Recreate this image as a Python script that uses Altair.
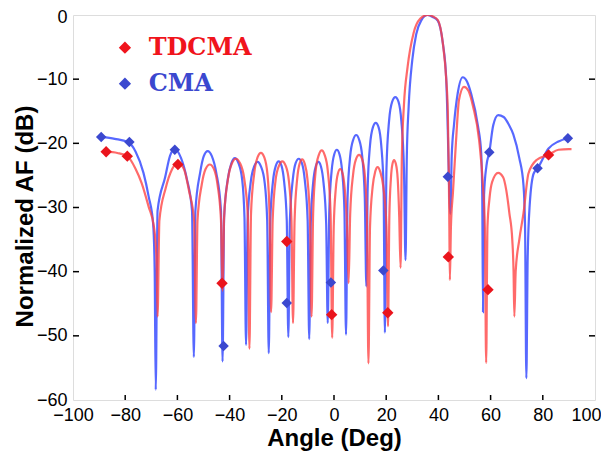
import altair as alt
import pandas as pd

# ---------------- data ----------------
cma_angle = [
    -89, -84, -79, -76, -73, -71, -69.3, -68.7, -68.3,
    -67.6, -64.7, -62.8, -61.0, -58.6, -56.4, -54.4, -53.7,
    -53.1, -51.3, -49.9, -48.4, -46.8, -45.1, -43.3, -42.7,
    -42.1, -40.7, -39.3, -38.0, -36.6, -35.2, -34.3, -33.7,
    -33.1, -31.9, -30.6, -29.3, -28.0, -26.6, -25.6, -25.0,
    -24.4, -23.4, -22.3, -21.2, -20.1, -19.1, -18.1, -17.5,
    -16.9, -15.8, -14.7, -13.5, -12.3, -11.2, -10.1, -9.5,
    -8.9, -8.0, -7.0, -6.0, -5.0, -4.0, -3.0, -2.4,
    -1.8, -0.9, 0.1, 1.1, 2.1, 3.1, 4.0, 4.6,
    5.2, 6.2, 7.4, 8.5, 9.6, 10.8, 11.8, 12.4,
    12.9, 13.8, 14.9, 16.0, 17.1, 18.1, 19.0, 19.5,
    20.1, 21.1, 22.3, 23.5, 24.7, 25.8, 26.8, 27.4,
    27.9, 28.6, 30.0, 31.5, 33.5, 35.8, 37.8, 39.8, 41.7, 43.0, 43.6, 44.0, 44.6,
    45.1, 46.0, 47.4, 49.3, 51.0, 52.5, 55.2, 56.4, 56.8, 57.1,
    57.5, 58.4, 59.5, 61.0, 62.9, 65.0, 67.0, 68.7, 71.0, 72.6, 73.2, 73.7,
    74.2, 75.0, 76.5, 78.0, 82.2, 86.0, 89.6,
]
cma_db = [
    -19.0, -19.3, -19.8, -21.3, -24.6, -28.3, -32.5, -40.0, -58.4,
    -30.5, -25.3, -21.9, -20.9, -22.3, -25.5, -30.5, -53.3,
    -30.5, -24.6, -22.0, -21.2, -22.0, -24.6, -30.5, -54.0,
    -31.5, -25.6, -23.1, -22.3, -23.1, -25.6, -31.5, -51.4,
    -32.0, -26.0, -23.6, -22.9, -23.6, -26.0, -32.0, -52.7,
    -32.0, -26.0, -23.5, -22.8, -23.5, -26.0, -32.0, -50.2,
    -32.0, -25.7, -23.1, -22.4, -23.1, -25.7, -32.0, -50.5,
    -32.5, -26.2, -23.6, -22.9, -23.6, -26.2, -32.5, -48.0,
    -30.5, -24.3, -21.7, -21.0, -21.7, -24.3, -30.5, -49.8,
    -28.5, -22.0, -19.4, -18.7, -19.4, -22.0, -28.5, -42.3,
    -27.0, -20.3, -17.5, -16.8, -17.5, -20.3, -27.0, -49.5,
    -24.0, -16.5, -13.5, -12.8, -13.5, -16.5, -24.0, -38.2,
    -22.0, -14.3, -7.0, -3.0, -0.8, 0.0, -0.3, -0.9, -4.4, -10.0, -18.0, -25.2, -31.0,
    -22.0, -17.0, -12.2, -9.7, -10.4, -12.2, -17.4, -21.5, -28.0, -46.3,
    -28.0, -23.5, -21.4, -17.2, -15.6, -15.9, -17.1, -18.6, -22.3, -26.5, -33.0, -56.6,
    -38.0, -29.5, -24.7, -23.9, -20.8, -19.7, -19.2,
]

tdcma_angle = [
    -87.3, -83, -79.2, -76, -73.7, -71, -69, -68, -67.6,
    -66.9, -64.5, -62.0, -59.8, -57.5, -55.5, -53.6, -52.9,
    -52.3, -50.7, -49.2, -47.6, -46.0, -44.6, -43.3, -42.7,
    -42.1, -40.6, -39.1, -37.6, -36.0, -34.4, -33.0, -32.4,
    -31.8, -30.6, -29.3, -28.0, -26.7, -25.5, -24.7, -24.1,
    -23.5, -22.4, -21.1, -19.8, -18.5, -17.3, -16.3, -15.7,
    -15.1, -14.1, -13.2, -12.2, -11.2, -10.2, -9.2, -8.6,
    -8.0, -7.0, -5.8, -4.7, -3.6, -2.4, -1.3, -0.7,
    -0.1, 0.7, 1.5, 2.4, 3.3, 4.1, 5.0, 5.6,
    6.2, 7.3, 8.4, 9.6, 10.8, 11.8, 12.6, 13.2,
    13.8, 14.8, 15.8, 16.7, 17.7, 18.9, 20.1, 20.7,
    21.2, 21.8, 22.4, 23.0, 23.7, 24.4, 25.0, 25.5,
    26.0, 26.8, 28.2, 30.5, 33.0, 35.8, 37.8, 39.8, 41.7, 43.0, 43.6, 44.0, 44.2, 44.4,
    44.8, 45.6, 46.7, 47.9, 49.8, 51.5, 53.3, 55.6, 57.1, 57.8, 58.3,
    58.8, 59.6, 60.6, 62.9, 64.8, 66.0, 67.2, 68.3, 68.8, 69.1,
    69.6, 71.0, 72.6, 74.5, 77.6, 82.2, 86.0, 90.0, 91.0,
]
tdcma_db = [
    -21.3, -21.5, -22.0, -24.0, -26.2, -29.9, -33.0, -38.0, -47.0,
    -32.0, -27.0, -24.0, -23.0, -24.0, -27.5, -32.0, -48.0,
    -32.0, -26.5, -24.0, -23.3, -24.0, -26.5, -32.0, -43.0,
    -31.5, -25.5, -23.1, -22.4, -23.1, -25.5, -31.5, -52.0,
    -31.0, -24.8, -22.2, -21.5, -22.2, -24.8, -31.0, -46.3,
    -32.0, -25.8, -23.5, -22.8, -23.5, -25.8, -32.0, -48.0,
    -32.0, -25.5, -23.2, -22.5, -23.2, -25.5, -32.0, -47.0,
    -31.0, -24.2, -21.8, -21.1, -21.8, -24.2, -31.0, -50.3,
    -33.0, -27.0, -24.7, -24.0, -24.7, -27.0, -33.0, -41.8,
    -31.0, -24.9, -22.5, -21.8, -22.5, -24.9, -31.0, -54.3,
    -33.0, -26.8, -24.4, -23.7, -24.4, -26.8, -33.0, -48.5,
    -31.5, -25.5, -23.2, -22.6, -23.2, -25.5, -31.5, -39.4,
    -22.0, -14.0, -8.1, -2.8, -0.6, 0.0, -0.2, -0.8, -4.4, -10.0, -15.0, -25.0, -33.0, -41.3,
    -33.0, -27.5, -20.0, -13.2, -11.2, -11.8, -14.3, -19.5, -26.8, -33.0, -54.2,
    -33.0, -28.5, -26.0, -24.6, -25.3, -27.3, -30.9, -35.0, -40.0, -47.0,
    -40.0, -35.0, -30.9, -24.7, -22.6, -21.8, -21.0, -20.9, -20.9,
]

tdcma_mark_angle = [-87.3, -79.2, -59.8, -42.9, -18.1, -0.9, 20.6, 43.8, 59.0, 82.2]
tdcma_mark_db = [-21.3, -22.0, -23.3, -41.8, -35.3, -46.7, -46.4, -37.7, -42.8, -21.8]
cma_mark_angle = [-89.2, -78.4, -61.0, -42.3, -18.1, -1.2, 18.9, 43.6, 59.5, 78.0, 89.6]
cma_mark_db = [-19.0, -19.8, -21.0, -51.6, -44.9, -41.7, -39.8, -25.2, -21.4, -23.9, -19.2]

x_tick_values = [-100, -80, -60, -40, -20, 0, 20, 40, 60, 80, 100]
y_tick_values = [-60, -50, -40, -30, -20, -10, 0]
x_inner_ticks = [-80, -60, -40, -20, 0, 20, 40, 60, 80]
y_inner_ticks = [-50, -40, -30, -20, -10]

legend_labels = ["TDCMA", "CMA"]
legend_colors = ["#f0141c", "#3b48cf"]
legend_symbol_angle = [-80.1, -80.1]
legend_text_angle = [-71.0, -71.0]
legend_db = [-5.1, -10.7]

# ---------------- chart ----------------
W, H = 522, 385
RED_LINE = "#ff4040"
BLUE_LINE = "#3a4dff"
RED_MARK = "#ea141c"
BLUE_MARK = "#3b48cf"

xs = alt.Scale(domain=[-100, 100], nice=False, zero=False)
ys = alt.Scale(domain=[-60, 0], nice=False, zero=False)

x_axis = alt.Axis(
    values=x_tick_values, title="Angle (Deg)", grid=False, ticks=False, domain=False,
    labelFont="Liberation Sans", labelFontSize=18, labelColor="black", labelPadding=6,
    labelFlush=False, labelOverlap=False,
    labelAlign={"condition": {"test": "datum.value === 100", "value": "right"}, "value": "center"},
    labelOffset={"condition": {"test": "datum.value === 100", "value": 6}, "value": 0},
    titleFont="Liberation Sans", titleFontSize=24, titleFontWeight="bold", titleColor="black",
    titleX=W / 2, titleY=45, titleBaseline="alphabetic",
)
y_axis = alt.Axis(
    values=y_tick_values, title="Normalized AF (dB)", grid=False, ticks=False, domain=False,
    labelFont="Liberation Sans", labelFontSize=18, labelColor="black", labelPadding=6,
    labelFlush=False, labelOverlap=False,
    labelOffset={"condition": {"test": "datum.value === 0", "value": 2}, "value": 0},
    titleFont="Liberation Sans", titleFontSize=24, titleFontWeight="bold", titleColor="black",
    titleX=-36, titleY=201, titleAngle=270, titleAlign="center", titleBaseline="bottom",
)

cma_df = pd.DataFrame({"angle": cma_angle, "db": cma_db})
tdcma_df = pd.DataFrame({"angle": tdcma_angle, "db": tdcma_db})

base_x = alt.X("angle:Q", scale=xs, axis=x_axis)
base_y = alt.Y("db:Q", scale=ys, axis=y_axis)

cma_line = alt.Chart(cma_df).mark_line(
    color=BLUE_LINE, strokeWidth=2.2, opacity=0.85, interpolate="monotone", clip=True
).encode(x=base_x, y=base_y)

tdcma_line = alt.Chart(tdcma_df).mark_line(
    color=RED_LINE, strokeWidth=2.2, opacity=0.78, interpolate="monotone", clip=True
).encode(x=alt.X("angle:Q", scale=xs), y=alt.Y("db:Q", scale=ys))

cma_pts = alt.Chart(pd.DataFrame({"angle": cma_mark_angle, "db": cma_mark_db})).mark_point(
    shape="diamond", filled=True, color=BLUE_MARK, size=110, opacity=1
).encode(x=alt.X("angle:Q", scale=xs), y=alt.Y("db:Q", scale=ys))

tdcma_pts = alt.Chart(pd.DataFrame({"angle": tdcma_mark_angle, "db": tdcma_mark_db})).mark_point(
    shape="diamond", filled=True, color=RED_MARK, size=130, opacity=1
).encode(x=alt.X("angle:Q", scale=xs), y=alt.Y("db:Q", scale=ys))

# inward ticks
xt = alt.Chart(pd.DataFrame({"angle": x_inner_ticks})).mark_rule(
    color="black", strokeWidth=1.5
).encode(x=alt.X("angle:Q", scale=xs), y=alt.value(H), y2=alt.value(H - 5))
ytl = alt.Chart(pd.DataFrame({"db": y_inner_ticks})).mark_rule(
    color="black", strokeWidth=1.5
).encode(y=alt.Y("db:Q", scale=ys), x=alt.value(0), x2=alt.value(6))
ytr = alt.Chart(pd.DataFrame({"db": y_inner_ticks})).mark_rule(
    color="black", strokeWidth=1.5
).encode(y=alt.Y("db:Q", scale=ys), x=alt.value(W), x2=alt.value(W - 6))

leg_df = pd.DataFrame({
    "label": legend_labels, "color": legend_colors,
    "sx": legend_symbol_angle, "tx": legend_text_angle, "db": legend_db,
})
leg_sym = alt.Chart(leg_df).mark_point(shape="diamond", filled=True, size=150, opacity=1).encode(
    x=alt.X("sx:Q", scale=xs), y=alt.Y("db:Q", scale=ys),
    color=alt.Color("color:N", scale=None),
)
leg_txt = alt.Chart(leg_df).mark_text(
    align="left", baseline="middle", font="DejaVu Serif", fontSize=24, fontWeight="bold"
).encode(
    x=alt.X("tx:Q", scale=xs), y=alt.Y("db:Q", scale=ys),
    text="label:N", color=alt.Color("color:N", scale=None),
)

chart = alt.layer(
    cma_line, tdcma_line, cma_pts, tdcma_pts, xt, ytl, ytr, leg_sym, leg_txt
).properties(
    width=W, height=H,
    autosize=alt.AutoSizeParams(type="none"),
    padding={"left": 65, "top": 7, "right": 6, "bottom": 51},
).configure_view(
    stroke="black", strokeWidth=3
).configure(background="white")

chart.save("out.html", embed_options={"renderer": "svg", "actions": False})
